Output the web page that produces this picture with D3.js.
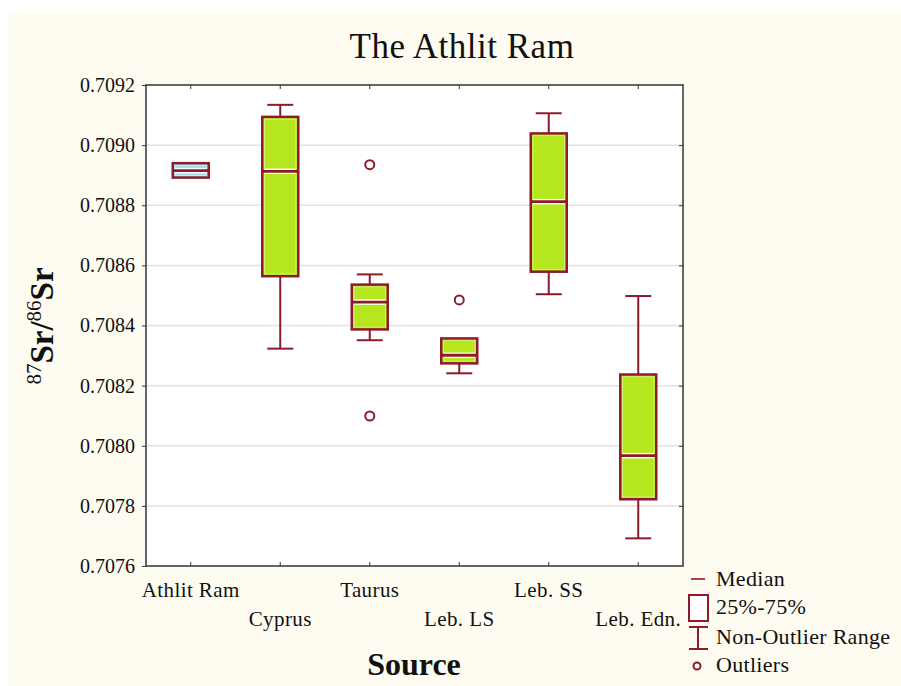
<!DOCTYPE html>
<html>
<head>
<meta charset="utf-8">
<script src="https://cdn.jsdelivr.net/npm/d3@7"></script>
<style>
  body { margin: 0; background: #fff; }
  svg text { font-family: "Liberation Serif", "DejaVu Serif", serif; fill: #111; }
</style>
</head>
<body>
<svg id="chart" width="901" height="686"></svg>
<script>
// categories and box statistics
var sources = ["Athlit Ram", "Cyprus", "Taurus", "Leb. LS", "Leb. SS", "Leb. Edn."];
var whiskerLow  = [0.708892, 0.708323, 0.708351, 0.708241, 0.708504, 0.707692];
var boxLow      = [0.708892, 0.708564, 0.708387, 0.708274, 0.708579, 0.707822];
var medians     = [0.708915, 0.708913, 0.708478, 0.708301, 0.708812, 0.707967];
var boxHigh     = [0.708940, 0.709094, 0.708536, 0.708357, 0.709039, 0.708237];
var whiskerHigh = [0.708940, 0.709134, 0.708570, 0.708357, 0.709106, 0.708498];
var outliers = [
  {src: "Taurus", v: 0.708935},
  {src: "Taurus", v: 0.708099},
  {src: "Leb. LS", v: 0.708485}
];
var yTicks = [0.7076, 0.7078, 0.7080, 0.7082, 0.7084, 0.7086, 0.7088, 0.7090, 0.7092];

var red = "#8e1b2c", lime = "#b6e61e", blue = "#a6dcea";

var svg = d3.select("#chart");
var margin = {left: 146, right: 218, top: 85, bottom: 120};
var W = 901, H = 686;

// cream page background
svg.append("rect")
  .attr("x", 8).attr("y", 11).attr("width", W - 8).attr("height", H - 11)
  .attr("fill", "#fefcf1");

var x = d3.scaleBand().domain(sources)
  .range([margin.left, W - margin.right]).paddingInner(0).paddingOuter(0);
var y = d3.scaleLinear().domain([0.7076, 0.7092])
  .range([H - margin.bottom, margin.top]);

var rows = sources.map(function(s, i) {
  return {src: s, wl: whiskerLow[i], bl: boxLow[i], med: medians[i],
          bh: boxHigh[i], wh: whiskerHigh[i], i: i};
});

// plot area
svg.append("rect")
  .attr("x", margin.left).attr("y", margin.top)
  .attr("width", W - margin.right - margin.left)
  .attr("height", H - margin.bottom - margin.top)
  .attr("fill", "#fff");

// gridlines
svg.append("g").selectAll("line")
  .data(yTicks.slice(1, -1)).enter().append("line")
  .attr("x1", margin.left).attr("x2", W - margin.right)
  .attr("y1", function(d) { return y(d); }).attr("y2", function(d) { return y(d); })
  .attr("stroke", "#e2e2e2").attr("stroke-width", 1.5);

// axes
var yAxis = d3.axisLeft(y).tickValues(yTicks).tickFormat(d3.format(".4f"))
  .tickSize(4).tickPadding(7);
var gy = svg.append("g").attr("transform", "translate(" + margin.left + ",0)").call(yAxis);
gy.attr("font-size", null).attr("font-family", null);
gy.select(".domain").remove();
gy.selectAll("text").style("font-size", "20px");
gy.selectAll("line").attr("stroke", "#333");

var gyR = svg.append("g").attr("transform", "translate(" + (W - margin.right) + ",0)")
  .call(d3.axisLeft(y).tickValues(yTicks.slice(1, -1)).tickSize(4).tickFormat(""));
gyR.select(".domain").remove();
gyR.selectAll("line").attr("stroke", "#333");

var gxT = svg.append("g").attr("transform", "translate(0," + margin.top + ")")
  .call(d3.axisBottom(x).tickSize(4).tickFormat(""));
gxT.select(".domain").remove();
gxT.selectAll("line").attr("stroke", "#333");

var gx = svg.append("g").attr("transform", "translate(0," + (H - margin.bottom) + ")")
  .call(d3.axisTop(x).tickSize(4).tickFormat(""));
gx.select(".domain").remove();
gx.selectAll("line").attr("stroke", "#333");

svg.append("g").selectAll("text")
  .data(sources).enter().append("text")
  .attr("x", function(d) { return x(d) + x.bandwidth() / 2; })
  .attr("y", function(d, i) { return H - margin.bottom + (i % 2 ? 60 : 31); })
  .attr("text-anchor", "middle")
  .style("font-size", "21px").style("letter-spacing", "0.4px")
  .text(function(d) { return d; });

// frame
svg.append("rect")
  .attr("x", margin.left).attr("y", margin.top)
  .attr("width", W - margin.right - margin.left)
  .attr("height", H - margin.bottom - margin.top)
  .attr("fill", "none").attr("stroke", "#333").attr("stroke-width", 1.5);

// boxes
var bw = 36, cap = 26;
var g = svg.append("g");
var cx = function(d) { return x(d.src) + x.bandwidth() / 2; };

// whiskers
g.selectAll(".wh").data(rows).enter().append("line")
  .attr("x1", cx).attr("x2", cx)
  .attr("y1", function(d) { return y(d.wh); }).attr("y2", function(d) { return y(d.bh); })
  .attr("stroke", red).attr("stroke-width", 2);
g.selectAll(".wl").data(rows).enter().append("line")
  .attr("x1", cx).attr("x2", cx)
  .attr("y1", function(d) { return y(d.bl); }).attr("y2", function(d) { return y(d.wl); })
  .attr("stroke", red).attr("stroke-width", 2);
g.selectAll(".cap1").data(rows.filter(function(d) { return d.wh > d.bh; })).enter().append("line")
  .attr("x1", function(d) { return cx(d) - cap / 2; }).attr("x2", function(d) { return cx(d) + cap / 2; })
  .attr("y1", function(d) { return y(d.wh); }).attr("y2", function(d) { return y(d.wh); })
  .attr("stroke", red).attr("stroke-width", 2);
g.selectAll(".cap2").data(rows.filter(function(d) { return d.wl < d.bl; })).enter().append("line")
  .attr("x1", function(d) { return cx(d) - cap / 2; }).attr("x2", function(d) { return cx(d) + cap / 2; })
  .attr("y1", function(d) { return y(d.wl); }).attr("y2", function(d) { return y(d.wl); })
  .attr("stroke", red).attr("stroke-width", 2);

g.selectAll(".box").data(rows).enter().append("rect")
  .attr("x", function(d) { return cx(d) - bw / 2; })
  .attr("y", function(d) { return y(d.bh); })
  .attr("width", bw)
  .attr("height", function(d) { return y(d.bl) - y(d.bh); })
  .attr("fill", function(d) { return d.i === 0 ? blue : lime; })
  .attr("stroke", red).attr("stroke-width", 2.5);
g.selectAll(".inner").data(rows).enter().append("rect")
  .attr("x", function(d) { return cx(d) - bw / 2 + 2.3; })
  .attr("y", function(d) { return y(d.bh) + 2.3; })
  .attr("width", bw - 4.6)
  .attr("height", function(d) { return Math.max(0, y(d.bl) - y(d.bh) - 4.6); })
  .attr("fill", "none").attr("stroke", "#fff").attr("stroke-width", 0.6).attr("opacity", 0.6);

// medians: red line with a thin white edge either side
g.selectAll(".medw").data(rows).enter().append("line")
  .attr("x1", function(d) { return cx(d) - bw / 2 + 2.5; }).attr("x2", function(d) { return cx(d) + bw / 2 - 2.5; })
  .attr("y1", function(d) { return y(d.med); }).attr("y2", function(d) { return y(d.med); })
  .attr("stroke", "#fff").attr("stroke-width", 5.5);
g.selectAll(".med").data(rows).enter().append("line")
  .attr("x1", function(d) { return cx(d) - bw / 2; }).attr("x2", function(d) { return cx(d) + bw / 2; })
  .attr("y1", function(d) { return y(d.med); }).attr("y2", function(d) { return y(d.med); })
  .attr("stroke", red).attr("stroke-width", 2.8);

// outliers
g.selectAll(".out").data(outliers).enter().append("circle")
  .attr("cx", function(d) { return x(d.src) + x.bandwidth() / 2; })
  .attr("cy", function(d) { return y(d.v); })
  .attr("r", 4.5).attr("fill", "#fff").attr("stroke", red).attr("stroke-width", 2);

// titles
svg.append("text").attr("x", 462).attr("y", 58).attr("text-anchor", "middle")
  .style("font-size", "35px").style("letter-spacing", "0.5px").text("The Athlit Ram");
svg.append("text").attr("x", 414).attr("y", 675).attr("text-anchor", "middle")
  .style("font-size", "32px").style("font-weight", "bold").text("Source");

var yl = svg.append("text")
  .attr("transform", "translate(53,326) rotate(-90)")
  .attr("text-anchor", "middle")
  .style("font-size", "33px").style("font-weight", "bold");
yl.append("tspan").attr("baseline-shift", "super").style("font-size", "21px").style("font-weight", "normal").text("87");
yl.append("tspan").text("Sr/");
yl.append("tspan").attr("baseline-shift", "super").style("font-size", "21px").style("font-weight", "normal").text("86");
yl.append("tspan").text("Sr");

// legend
var lg = svg.append("g").attr("transform", "translate(688,0)");
lg.append("line").attr("x1", 3).attr("x2", 17).attr("y1", 579).attr("y2", 579)
  .attr("stroke", "#b04050").attr("stroke-width", 2);
lg.append("rect").attr("x", 1).attr("y", 595).attr("width", 19).attr("height", 26)
  .attr("fill", "#fff").attr("stroke", red).attr("stroke-width", 2);
lg.append("line").attr("x1", 10).attr("x2", 10).attr("y1", 627).attr("y2", 649)
  .attr("stroke", red).attr("stroke-width", 2);
lg.append("line").attr("x1", 1).attr("x2", 20).attr("y1", 627).attr("y2", 627)
  .attr("stroke", red).attr("stroke-width", 2);
lg.append("line").attr("x1", 1).attr("x2", 20).attr("y1", 649).attr("y2", 649)
  .attr("stroke", red).attr("stroke-width", 2);
lg.append("circle").attr("cx", 9).attr("cy", 666).attr("r", 3.5)
  .attr("fill", "none").attr("stroke", red).attr("stroke-width", 2);
var labels = ["Median", "25%-75%", "Non-Outlier Range", "Outliers"];
var ly = [586, 614, 644, 672];
lg.selectAll(".lt").data(labels).enter().append("text")
  .attr("x", 28).attr("y", function(d, i) { return ly[i]; })
  .style("font-size", "22px").style("letter-spacing", "0.3px").text(function(d) { return d; });
</script>
</body>
</html>
